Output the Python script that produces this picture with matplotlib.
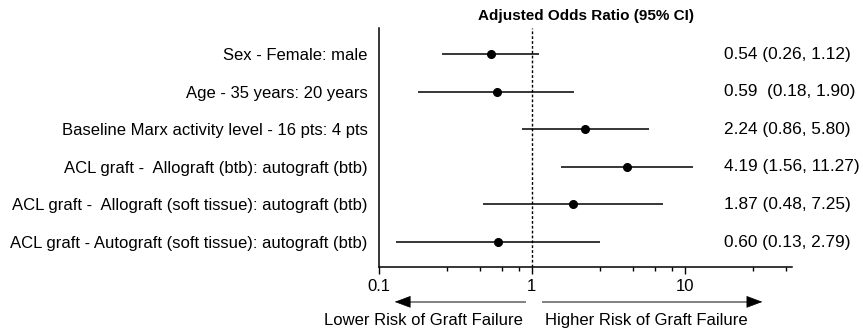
"""
Forest plot of adjusted odds ratios for graft failure.
"""

import numpy as np
import matplotlib.pyplot as plt
from matplotlib.ticker import FixedLocator, NullFormatter

plt.rcParams["font.family"] = ["Liberation Sans", "DejaVu Sans"]

labels = [
    "Sex - Female: male",
    "Age - 35 years: 20 years",
    "Baseline Marx activity level - 16 pts: 4 pts",
    "ACL graft -  Allograft (btb): autograft (btb)",
    "ACL graft -  Allograft (soft tissue): autograft (btb)",
    "ACL graft - Autograft (soft tissue): autograft (btb)",
]
odds = [0.54, 0.59, 2.24, 4.19, 1.87, 0.60]
ci_low = [0.26, 0.18, 0.86, 1.56, 0.48, 0.13]
ci_high = [1.12, 1.90, 5.80, 11.27, 7.25, 2.79]
or_text = [
    "0.54 (0.26, 1.12)",
    "0.59  (0.18, 1.90)",
    "2.24 (0.86, 5.80)",
    "4.19 (1.56, 11.27)",
    "1.87 (0.48, 7.25)",
    "0.60 (0.13, 2.79)",
]

n = len(labels)
ypos = np.arange(n, 0, -1)

fig = plt.figure(figsize=(8.63, 3.35), dpi=100)
ax = fig.add_axes([0.439, 0.203, 0.479, 0.713])

ax.hlines(ypos, ci_low, ci_high, color="black", lw=1.1)
ax.plot(odds, ypos, "o", color="black", ms=5.5)
ax.axvline(1, color="black", ls=(0, (2, 1.5)), lw=1.0)

ax.set_xscale("log")
ax.set_xlim(0.1, 50.5)
ax.set_ylim(0.335, 6.69)

ax.set_xticks([0.1, 1, 10])
ax.set_xticklabels(["0.1", "1", "10"], fontsize=12)
minor = [d * m for d in (0.1, 1, 10) for m in (2.8, 4.6, 6.4, 8.3)]
ax.xaxis.set_minor_locator(FixedLocator([v for v in minor if v < 50]))
ax.xaxis.set_minor_formatter(NullFormatter())
ax.tick_params(axis="x", which="major", length=5, width=1, pad=4)
ax.tick_params(axis="x", which="minor", length=3, width=1)

ax.set_yticks(ypos)
ax.set_yticklabels(labels, fontsize=12)
ax.tick_params(axis="y", length=0, pad=8)

for s in ("top", "right"):
    ax.spines[s].set_visible(False)
for s in ("left", "bottom"):
    ax.spines[s].set_linewidth(1.1)

ax.set_title("Adjusted Odds Ratio (95% CI)", fontsize=11, fontweight="bold", pad=6)

trans = ax.get_yaxis_transform()
for y, t in zip(ypos, or_text):
    ax.text(0.835, y, t, transform=trans, ha="left", va="center", fontsize=12.4)

# direction arrows under the axis: gray shaft, black head
xtrans = ax.get_xaxis_transform()
arrow_y = -0.146
head_kw = dict(arrowstyle="-|>,head_length=0.8,head_width=0.3", color="black",
               lw=0.5, mutation_scale=13, shrinkA=0, shrinkB=0)
ax.plot([0.90, 0.15], [arrow_y, arrow_y], color="#808080", lw=1.4,
        transform=xtrans, clip_on=False)
ax.plot([1.18, 27], [arrow_y, arrow_y], color="#808080", lw=1.4,
        transform=xtrans, clip_on=False)
ax.annotate("", xy=(0.127, arrow_y), xytext=(0.152, arrow_y),
            xycoords=xtrans, arrowprops=head_kw, annotation_clip=False)
ax.annotate("", xy=(32.2, arrow_y), xytext=(26.8, arrow_y),
            xycoords=xtrans, arrowprops=head_kw, annotation_clip=False)
ax.text(0.873, -0.222, "Lower Risk of Graft Failure", transform=xtrans,
        ha="right", va="center", fontsize=12)
ax.text(1.22, -0.222, "Higher Risk of Graft Failure", transform=xtrans,
        ha="left", va="center", fontsize=12)

fig.savefig("out.png", dpi=100)
